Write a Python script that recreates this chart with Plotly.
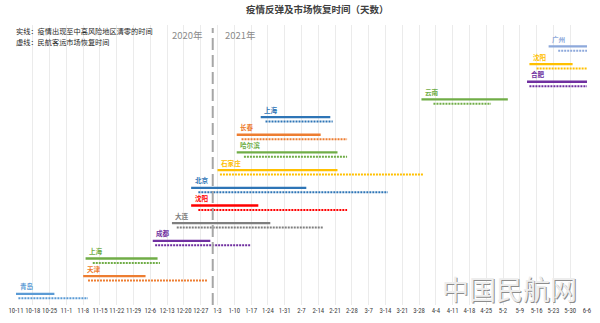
import plotly.graph_objects as go

# ---- data (rows listed bottom to top) ----
cities = ["青岛", "天津", "上海", "成都", "大连", "沈阳", "北京", "石家庄",
          "哈尔滨", "长春", "上海", "云南", "合肥", "沈阳", "广州"]
solid_start = ["2020-10-11", "2020-11-08", "2020-11-09", "2020-12-07", "2020-12-15",
               "2020-12-23", "2020-12-23", "2021-01-03", "2021-01-11", "2021-01-11",
               "2021-01-21", "2021-03-29", "2021-05-12", "2021-05-13", "2021-05-21"]
solid_end = ["2020-10-27", "2020-12-04", "2020-12-09", "2020-12-31", "2021-01-25",
             "2021-01-20", "2021-02-09", "2021-02-22", "2021-02-22", "2021-02-15",
             "2021-02-19", "2021-05-04", "2021-06-06", "2021-05-31", "2021-06-06"]
dotted_start = ["2020-10-12", "2020-11-10", "2020-11-12", "2020-12-08", "2020-12-17",
                "2020-12-26", "2020-12-26", "2021-01-04", "2021-01-14", "2021-01-13",
                "2021-01-23", "2021-04-03", "2021-05-13", "2021-05-16", "2021-05-25"]
dotted_end = ["2020-11-10", "2020-12-30", "2020-12-10", "2021-01-17", "2021-02-16",
              "2021-02-26", "2021-03-15", "2021-03-30", "2021-02-26", "2021-02-26",
              "2021-02-20", "2021-04-27", "2021-06-06", "2021-06-06", "2021-06-06"]
year_break = "2021-01-01"
axis_start = "2020-10-11"
axis_end = "2021-06-06"

title_text = "疫情反弹及市场恢复时间（天数）"
note_solid = "实线：疫情出现至中高风险地区清零的时间"
note_dotted = "虚线：民航客运市场恢复时间"
year_labels = ["2020年", "2021年"]
watermark = "中国民航网"

# ---- styles ----
colors = ["#5B9BD5", "#ED7D31", "#70AD47", "#7030A0", "#7F7F7F", "#FF0000",
          "#2E75B6", "#FFC000", "#70AD47", "#ED7D31", "#2E75B6", "#70AD47",
          "#7030A0", "#FFC000", "#8EA9DB"]
CJK = "Noto Sans CJK SC"
W, H = 600, 323
L, R, T, B = 8, 9, 25, 14
PW, PH = W - L - R, H - T - B

fig = go.Figure()
for i, city in enumerate(cities):
    fig.add_trace(go.Scatter(
        x=[solid_start[i], solid_end[i]], y=[i, i], mode="lines",
        line=dict(color=colors[i], width=2.3), showlegend=False, hoverinfo="skip"))
    fig.add_trace(go.Scatter(
        x=[dotted_start[i], dotted_end[i]], y=[i - 0.25, i - 0.25], mode="lines",
        line=dict(color=colors[i], width=2, dash="2px,1px"),
        showlegend=False, hoverinfo="skip"))
    fig.add_annotation(x=solid_start[i], y=i, text=city, showarrow=False,
                       xanchor="left", yanchor="middle", xshift=2.5, yshift=7.5,
                       borderpad=0,
                       font=dict(family=CJK, size=6.6, color=colors[i], weight="bold"))

# year separator
fig.add_shape(type="line", x0=year_break, x1=year_break, xref="x", yref="paper",
              y0=0, y1=(H - B - 28) / PH,
              line=dict(color="#A6A6A6", width=2, dash="12px,5px"))

fig.add_annotation(text=title_text, xref="paper", yref="paper",
                   x=(316 - L) / PW, y=(H - B - 8.5) / PH, showarrow=False,
                   xanchor="center", yanchor="middle", borderpad=0,
                   font=dict(family=CJK, size=9.5, color="#404040", weight="bold"))
fig.add_annotation(text=note_solid, xref="paper", yref="paper",
                   x=(7 - L) / PW, y=(H - B - 31.5) / PH, showarrow=False,
                   xanchor="left", yanchor="middle", borderpad=0,
                   font=dict(family=CJK, size=7.2, color="#262626"))
fig.add_annotation(text=note_dotted, xref="paper", yref="paper",
                   x=(7 - L) / PW, y=(H - B - 41.9) / PH, showarrow=False,
                   xanchor="left", yanchor="middle", borderpad=0,
                   font=dict(family=CJK, size=7.2, color="#262626"))
for lbl, px in zip(year_labels, [182.7, 237.5]):
    fig.add_annotation(text=lbl, xref="paper", yref="paper",
                       x=(px - L) / PW, y=(H - B - 35.5) / PH, showarrow=False,
                       xanchor="center", yanchor="middle", borderpad=0,
                       font=dict(family=CJK, size=9.5, color="#8C8C8C"))
fig.add_annotation(text=watermark, xref="paper", yref="paper",
                   x=(511.5 - L) / PW, y=(H - B - 292.5) / PH, showarrow=False,
                   xanchor="center", yanchor="middle", borderpad=0,
                   font=dict(family=CJK, size=27, color="#EDEDED",
                             shadow="1px 1px 0px #8C8C8C"))

fig.update_layout(
    width=W, height=H,
    margin=dict(l=L, r=R, t=T, b=B),
    paper_bgcolor="white", plot_bgcolor="white",
    showlegend=False,
    xaxis=dict(type="date", range=[axis_start, axis_end],
               tick0=axis_start, dtick=7 * 24 * 3600 * 1000,
               tickformat="%-m-%-d", tickangle=0,
               showgrid=True, gridcolor="#EBEBEB", gridwidth=1,
               zeroline=False, showline=False, ticks="",
               tickfont=dict(family="Liberation Sans Narrow, Roboto Condensed, Roboto",
                             size=6.8, color="#404040"),
               fixedrange=True),
    yaxis=dict(range=[-0.63, 15.21], showgrid=False, zeroline=False,
               showticklabels=False, showline=False, fixedrange=True),
)

fig.write_html("out.html")
